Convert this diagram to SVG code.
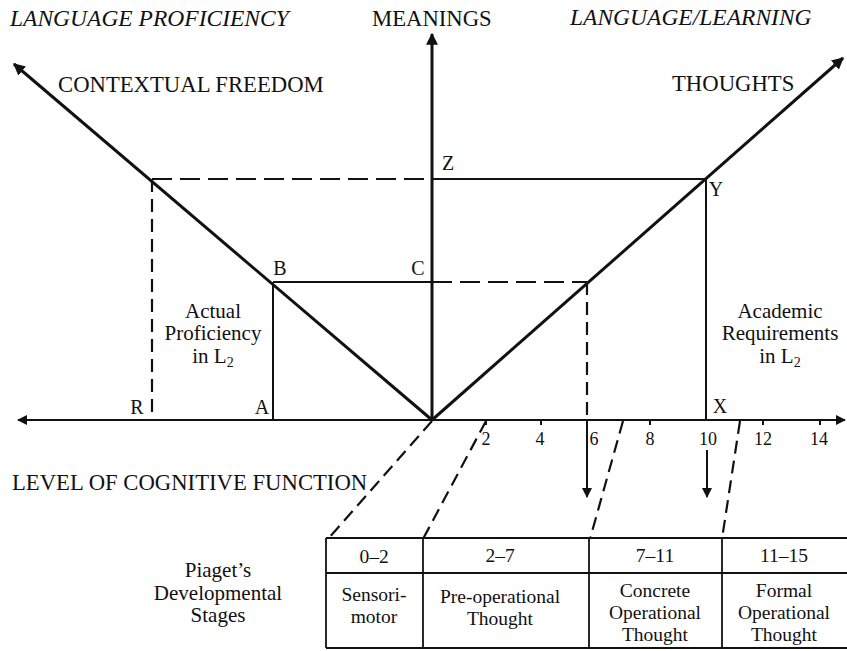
<svg xmlns="http://www.w3.org/2000/svg" width="847" height="651" viewBox="0 0 847 651">
<style>
  text { font-family: "Liberation Serif", "Times New Roman", serif; fill: #111; }
  .cap { font-size: 22.7px; }
  .ital { font-size: 23.5px; font-style: italic; }
  .lbl { font-size: 21px; }
  .tbl { font-size: 19.5px; }
  .pt { font-size: 20px; }
  .num { font-size: 18px; }
  .mid { text-anchor: middle; }
  .thick { stroke: #111; stroke-width: 3; fill: none; }
  .solid { stroke: #111; stroke-width: 2; fill: none; }
  .dash { stroke: #111; stroke-width: 2.2; fill: none; stroke-dasharray: 13 7; }
  .dashl { stroke: #111; stroke-width: 2; fill: none; stroke-dasharray: 20 8; }
  .box { stroke: #111; stroke-width: 1.8; fill: none; }
</style>
<defs>
  <marker id="ah" viewBox="0 0 10 10" refX="9" refY="5" markerWidth="4" markerHeight="4" orient="auto" markerUnits="strokeWidth">
    <path d="M0,0 L10,5 L0,10 Z" fill="#111"/>
  </marker>
  <marker id="ah2" viewBox="0 0 10 10" refX="9" refY="5" markerWidth="5.5" markerHeight="5" orient="auto" markerUnits="strokeWidth">
    <path d="M0,0 L10,5 L0,10 Z" fill="#111"/>
  </marker>
</defs>

<g id="connectors">
  <line id="x-axis-left" class="solid" x1="432" y1="420" x2="18" y2="420" marker-end="url(#ah2)"/>
  <line id="x-axis-right" class="solid" x1="432" y1="420" x2="845" y2="420" marker-end="url(#ah2)"/>
  <line id="y-axis" class="thick" x1="432" y1="420" x2="432" y2="34" marker-end="url(#ah)"/>
  <line id="diag-left" class="thick" x1="432" y1="420" x2="14" y2="64" marker-end="url(#ah)"/>
  <line id="diag-right" class="thick" x1="432" y1="420" x2="843" y2="58" marker-end="url(#ah)"/>
  <g class="solid">
    <line x1="486" y1="420" x2="486" y2="425"/>
    <line x1="541" y1="420" x2="541" y2="425"/>
    <line x1="650" y1="420" x2="650" y2="425"/>
    <line x1="763" y1="420" x2="763" y2="425"/>
    <line x1="820" y1="420" x2="820" y2="425"/>
  </g>
  <line class="dashl" x1="152" y1="179" x2="432" y2="179"/>
  <line class="solid" x1="432" y1="179" x2="706" y2="179"/>
  <line class="dash" x1="152" y1="179" x2="152" y2="420"/>
  <line class="solid" x1="706" y1="179" x2="706" y2="420"/>
  <line class="solid" x1="273" y1="282" x2="432" y2="282"/>
  <line class="dashl" x1="432" y1="282" x2="587" y2="282"/>
  <line class="solid" x1="273" y1="282" x2="273" y2="420"/>
  <line class="dash" x1="587" y1="282" x2="587" y2="420"/>
  <line class="solid" x1="587" y1="420" x2="587" y2="497" marker-end="url(#ah2)"/>
  <line class="solid" x1="707" y1="450" x2="707" y2="497" marker-end="url(#ah2)"/>
  <line class="dash" x1="432" y1="421" x2="328" y2="539"/>
  <line class="dash" x1="486" y1="421" x2="423" y2="539"/>
  <line class="dash" x1="623" y1="421" x2="590" y2="539"/>
  <line class="dash" x1="740" y1="421" x2="722" y2="539"/>
</g>

<g id="titles">
  <text class="ital" x="10" y="26">LANGUAGE PROFICIENCY</text>
  <text class="cap" x="372" y="26">MEANINGS</text>
  <text class="ital" x="570" y="25">LANGUAGE/LEARNING</text>
  <text class="cap" x="58" y="92">CONTEXTUAL FREEDOM</text>
  <text class="cap" x="672" y="91">THOUGHTS</text>
  <text class="cap" x="12" y="490">LEVEL OF COGNITIVE FUNCTION</text>
</g>

<g id="point-labels">
  <text class="pt mid" x="448" y="170">Z</text>
  <text class="pt mid" x="716" y="196">Y</text>
  <text class="pt mid" x="280" y="275">B</text>
  <text class="pt mid" x="418" y="275">C</text>
  <text class="pt mid" x="137" y="414">R</text>
  <text class="pt mid" x="262" y="414">A</text>
  <text class="pt mid" x="720" y="413">X</text>
</g>

<g id="actual-proficiency">
  <text class="lbl mid" x="213" y="318">Actual</text>
  <text class="lbl mid" x="213" y="340">Proficiency</text>
  <text class="lbl mid" x="213" y="363">in L<tspan font-size="14" dy="4">2</tspan></text>
</g>

<g id="academic-requirements">
  <text class="lbl mid" x="780" y="318">Academic</text>
  <text class="lbl mid" x="780" y="340">Requirements</text>
  <text class="lbl mid" x="780" y="363">in L<tspan font-size="14" dy="4">2</tspan></text>
</g>

<g id="tick-labels">
  <text class="num mid" x="486" y="445">2</text>
  <text class="num mid" x="540" y="445">4</text>
  <text class="num mid" x="594" y="445">6</text>
  <text class="num mid" x="650" y="445">8</text>
  <text class="num mid" x="708" y="445">10</text>
  <text class="num mid" x="763" y="445">12</text>
  <text class="num mid" x="819" y="445">14</text>
</g>

<g id="piaget-label">
  <text class="lbl mid" x="218" y="577">Piaget’s</text>
  <text class="lbl mid" x="218" y="600">Developmental</text>
  <text class="lbl mid" x="218" y="622">Stages</text>
</g>

<g id="stages-table">
  <line class="box" x1="326" y1="538" x2="847" y2="538"/>
  <line class="box" x1="326" y1="573" x2="847" y2="573"/>
  <line class="box" x1="326" y1="648" x2="847" y2="648"/>
  <line class="box" x1="326" y1="538" x2="326" y2="648"/>
  <line class="box" x1="423" y1="538" x2="423" y2="648"/>
  <line class="box" x1="589" y1="538" x2="589" y2="648"/>
  <line class="box" x1="722" y1="538" x2="722" y2="648"/>
</g>

<g id="stage-sensorimotor">
  <text class="tbl mid" x="374" y="563">0–2</text>
  <text class="tbl mid" x="374" y="601">Sensori-</text>
  <text class="tbl mid" x="374" y="623">motor</text>
</g>
<g id="stage-preoperational">
  <text class="tbl mid" x="500" y="562">2–7</text>
  <text class="tbl mid" x="500" y="603">Pre-operational</text>
  <text class="tbl mid" x="500" y="625">Thought</text>
</g>
<g id="stage-concrete">
  <text class="tbl mid" x="655" y="597">Concrete</text>
  <text class="tbl mid" x="655" y="562">7–11</text>
  <text class="tbl mid" x="655" y="619">Operational</text>
  <text class="tbl mid" x="655" y="641">Thought</text>
</g>
<g id="stage-formal">
  <text class="tbl mid" x="784" y="562">11–15</text>
  <text class="tbl mid" x="784" y="597">Formal</text>
  <text class="tbl mid" x="784" y="619">Operational</text>
  <text class="tbl mid" x="784" y="641">Thought</text>
</g>
</svg>
